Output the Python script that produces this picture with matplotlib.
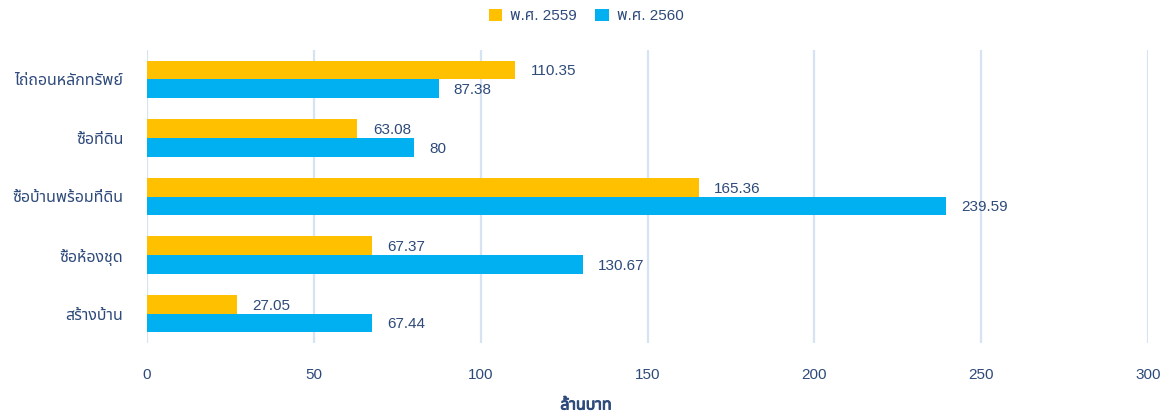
import matplotlib
matplotlib.use("Agg")
import matplotlib.pyplot as plt
import matplotlib.patheffects as pe
from matplotlib import font_manager
from matplotlib.ft2font import FT2Font
import numpy as np

categories = ["ไถ่ถอนหลักทรัพย์", "ซื้อที่ดิน", "ซื้อบ้านพร้อมที่ดิน", "ซื้อห้องชุด", "สร้างบ้าน"]
series_names = ["พ.ศ. 2559", "พ.ศ. 2560"]
values_2559 = [110.35, 63.08, 165.36, 67.37, 27.05]
values_2560 = [87.38, 80, 239.59, 130.67, 67.44]
xticks = [0, 50, 100, 150, 200, 250, 300]
xlabel = "ล้านบาท"

# find a font covering Thai
thai_family = None
preferred = []
for f in font_manager.fontManager.ttflist:
    try:
        cm = FT2Font(f.fname).get_charmap()
        if 0x0E01 in cm and 0x0E49 in cm:
            preferred.append(f.name)
    except Exception:
        pass
for cand in ["Noto Sans Thai", "Noto Sans Thai UI", "Sarabun", "Loma", "Garuda", "Tahoma", "Leelawadee UI"]:
    if cand in preferred:
        thai_family = cand
        break
if thai_family is None and preferred:
    thai_family = preferred[0]
fams = ["Liberation Sans"] + ([thai_family] if thai_family else []) + ["DejaVu Sans"]
plt.rcParams['font.family'] = fams

TEXT = "#2E4A7A"
C1 = "#FFC000"
C2 = "#00B0F0"
GRID = "#D6E3F3"

fig = plt.figure(figsize=(11.72, 4.16), dpi=100)
ax = fig.add_axes([147/1172, 1-343/416, (1148-147)/1172, (343-50)/416])

n = len(categories)
y = np.arange(n)
h = 0.32
b1 = ax.barh(y - h/2, values_2559, height=h, color=C1, label=series_names[0], zorder=3)
b2 = ax.barh(y + h/2, values_2560, height=h, color=C2, label=series_names[1], zorder=3)

for bars, vals in ((b1, values_2559), (b2, values_2560)):
    for rect, v in zip(bars, vals):
        ax.annotate(f"{v:g}", (rect.get_width(), rect.get_y() + rect.get_height()/2),
                    xytext=(11, -1), textcoords="offset points", va="center", ha="left",
                    fontsize=11, color=TEXT)

ax.set_xlim(0, 300)
ax.set_ylim(n - 0.5, -0.5)
ax.set_yticks(y)
ax.set_yticklabels(categories, fontsize=11.5, color=TEXT)
ax.set_xticks(xticks)
ax.set_xticklabels([str(t) for t in xticks], fontsize=11, color=TEXT)
ax.tick_params(axis='both', length=0)
ax.tick_params(axis='x', pad=18)
ax.tick_params(axis='y', pad=17)
for s in ax.spines.values():
    s.set_visible(False)
ax.grid(axis='x', color=GRID, linewidth=1.6, zorder=0)

fig.text(586/1172, 1-405/416, xlabel, ha="center", va="center", fontsize=11.5,
         fontweight="bold", color=TEXT,
         path_effects=[pe.withStroke(linewidth=0.7, foreground=TEXT)])

fig.legend(handles=[b1, b2], labels=series_names, loc="center", bbox_to_anchor=(586/1172, 1-16/416),
           ncol=2, frameon=False, fontsize=11, handlelength=0.9, handleheight=0.9,
           handletextpad=0.5, columnspacing=1.2, labelcolor=TEXT)

fig.savefig("out.png", dpi=100)
